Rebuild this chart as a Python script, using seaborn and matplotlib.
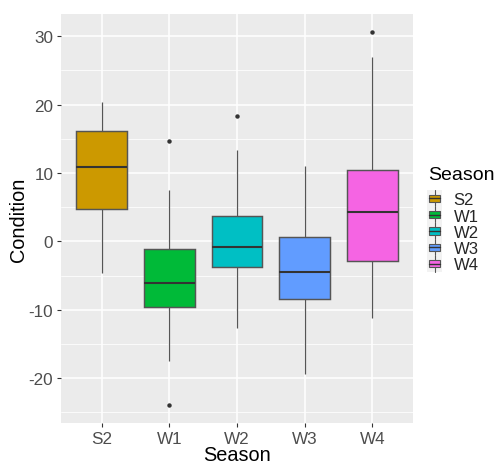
import matplotlib
matplotlib.use("Agg")
import matplotlib.pyplot as plt
import pandas as pd
import seaborn as sns
from matplotlib.legend_handler import HandlerBase
from matplotlib.lines import Line2D
from matplotlib.patches import Rectangle

# Five-number summaries of Condition per Season, plus the points beyond the whiskers
seasons = ["S2", "W1", "W2", "W3", "W4"]
whisker_low = [-4.6, -17.45, -12.6, -19.4, -11.15]
q1 = [4.75, -9.55, -3.8, -8.5, -2.85]
median = [10.8, -6.05, -0.9, -4.55, 4.3]
q3 = [16.1, -1.15, 3.7, 0.65, 10.4]
whisker_high = [20.3, 7.5, 13.35, 11.0, 26.9]
outlier_season = ["W1", "W1", "W2", "W4"]
outlier_value = [-23.9, 14.7, 18.3, 30.6]
colors = ["#CC9900", "#00BA38", "#00BFC4", "#619CFF", "#F564E3"]

EDGE = "#333333"
LINE = "#555555"

box_rows = []
for i, s in enumerate(seasons):
    for v in (whisker_low[i], q1[i], median[i], q3[i], whisker_high[i]):
        box_rows.append({"Season": s, "Condition": v})
box_df = pd.DataFrame(box_rows)
out_df = pd.DataFrame({"Season": outlier_season, "Condition": outlier_value})

sns.set_theme(style="darkgrid", rc={
    "axes.facecolor": "#EBEBEB",
    "grid.color": "white",
    "axes.edgecolor": "#EBEBEB",
})
plt.rcParams["font.family"] = ["Liberation Sans", "DejaVu Sans"]
plt.rcParams["axes.unicode_minus"] = False

W, H = 496, 464
fig = plt.figure(figsize=(W / 100, H / 100), dpi=100)
ax = fig.add_axes([61 / W, 1 - 424 / H, 352 / W, 409 / H])

sns.boxplot(
    data=box_df, x="Season", y="Condition", hue="Season", order=seasons,
    hue_order=seasons, palette=colors, width=0.75, linecolor=EDGE,
    linewidth=1.05, showfliers=False, showcaps=False, legend=False,
    whis=1.5, saturation=1, ax=ax,
    medianprops=dict(linewidth=1.5, color=EDGE),
    whiskerprops=dict(linewidth=0.9, color=LINE),
    boxprops=dict(edgecolor=LINE),
)
sns.stripplot(
    data=out_df, x="Season", y="Condition", order=seasons, jitter=False,
    color=EDGE, size=3.2, linewidth=0, ax=ax,
)

ax.set_xlim(-0.6, 4.6)
ax.set_ylim(-26.56, 33.23)
ax.set_yticks([-20, -10, 0, 10, 20, 30])
ax.set_yticks([-25, -15, -5, 5, 15, 25], minor=True)
ax.grid(True, which="major", color="white", linewidth=1.1)
ax.grid(True, which="minor", axis="y", color="white", linewidth=0.55)
ax.set_axisbelow(True)
for sp in ax.spines.values():
    sp.set_visible(False)

ax.tick_params(axis="both", which="major", length=3, width=0.8, color=EDGE,
               labelcolor="#4D4D4D", labelsize=12.3, pad=2.5)
ax.tick_params(axis="y", which="minor", length=0)
ax.tick_params(bottom=True, left=True)

ax.set_xlabel("Season", fontsize=14.3, color="black")
ax.set_ylabel("Condition", fontsize=14.3, color="black")
ax.xaxis.set_label_coords(0.5, (424 - 446) / 409)
ax.yaxis.set_label_coords((28 - 61) / 352, 0.5)


class MiniBoxHandler(HandlerBase):
    def __init__(self, face):
        super().__init__()
        self.face = face

    def create_artists(self, legend, orig_handle, xdescent, ydescent,
                       width, height, fontsize, trans):
        cx = width / 2 - xdescent
        y0 = -ydescent
        bg = Rectangle((-xdescent, y0 - 1.5), width, height + 3,
                       facecolor="#F2F2F2", edgecolor="none", transform=trans)
        vline = Line2D([cx, cx], [y0 - 1.5, y0 + height + 1.5],
                       color=LINE, linewidth=0.8, transform=trans)
        bw = width * 0.72
        box = Rectangle((cx - bw / 2, y0 + height * 0.22), bw,
                        height * 0.56, facecolor=self.face,
                        edgecolor=LINE, linewidth=0.8, transform=trans)
        mid = Line2D([cx - bw / 2, cx + bw / 2],
                     [y0 + height / 2, y0 + height / 2],
                     color=EDGE, linewidth=1.0, transform=trans)
        return [bg, vline, box, mid]


fig.text(428 / W, 1 - 175 / H, "Season", fontsize=14, color="black",
         ha="left", va="center")

handles = [Rectangle((0, 0), 1, 1) for _ in seasons]
leg = fig.legend(
    handles, seasons, loc="upper left",
    bbox_to_anchor=(427 / W, 1 - 193 / H),
    fontsize=12, frameon=False,
    handler_map={h: MiniBoxHandler(c) for h, c in zip(handles, colors)},
    handlelength=0.92, handleheight=0.82, handletextpad=0.68,
    labelspacing=0.06, borderpad=0, borderaxespad=0,
)

fig.savefig("out.png", dpi=100)
